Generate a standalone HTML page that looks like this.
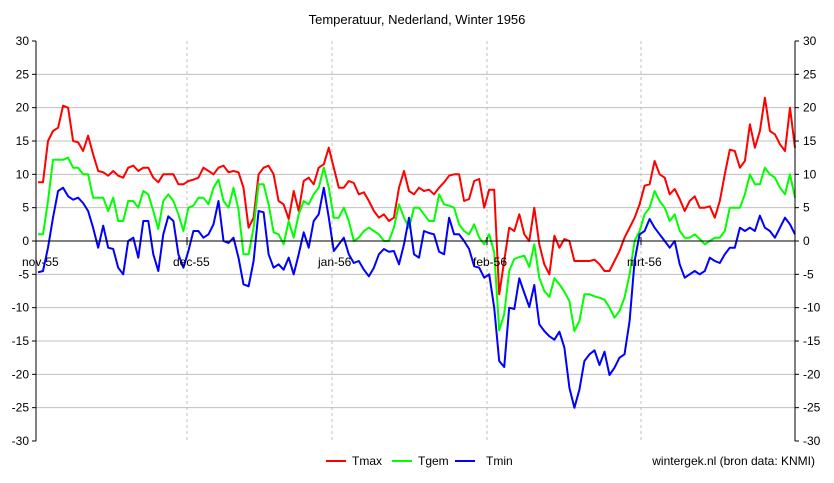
<!DOCTYPE html>
<html><head><meta charset="utf-8"><style>
body{margin:0;background:#fff;}
svg{display:block;font-family:"Liberation Sans",Arial,sans-serif;}
</style></head><body>
<svg id="chart" width="834" height="483">
<text x="417" y="24" text-anchor="middle" font-size="13">Temperatuur, Nederland, Winter 1956</text>
<g id="grid"></g><g id="series"></g><g id="axes"></g>
<g font-size="12">
<line x1="326" y1="461" x2="346" y2="461" stroke="#f00" stroke-width="2"/><text x="352" y="465">Tmax</text>
<line x1="392" y1="461" x2="412" y2="461" stroke="#0f0" stroke-width="2"/><text x="418" y="465">Tgem</text>
<line x1="455" y1="461" x2="475" y2="461" stroke="#00f" stroke-width="2"/><text x="486" y="465">Tmin</text>
</g>
<text x="815" y="465" text-anchor="end" font-size="12">wintergek.nl (bron data: KNMI)</text>
</svg>
<script>
const yTicks=[-30,-25,-20,-15,-10,-5,0,5,10,15,20,25,30];
const months=["nov-55","dec-55","jan-56","feb-56","mrt-56"];
const monthPx=[36,187,332,487,641];
const tmax=[8.8,8.8,15,16.5,17,20.3,20,15,14.8,13.5,15.8,13,10.5,10.3,9.8,10.5,9.8,9.5,11,11.3,10.5,11,11,9.5,8.8,10,10,10,8.5,8.5,9,9.2,9.5,11,10.5,10,11,11.3,10.3,10.5,10.3,8,2,3.5,10,11,11.3,10,6,5.5,3.3,7.5,4.5,9,9.5,8.5,11,11.5,14,11,8,8,9,8.7,7,7.3,6,4.5,3.5,4,3,3.5,8,10.5,7.5,7,8,7.5,7.7,7,8,8.8,9.8,10,10,6,6.3,9,9.3,5,7.7,7.7,-8,-3,2,1.5,4,1,0,5,-0.5,-3.5,-5,0.8,-1,0.3,0,-3,-3,-3,-3,-2.8,-3.5,-4.5,-4.5,-3,-1.5,0.5,2,3.5,5.5,8.3,8.5,12,10,9.5,7,7.8,6.3,4.5,6,6.7,5,5,5.2,3.5,6,10,13.7,13.5,11,12,17.5,14,16.5,21.5,16.5,16,14.5,13.5,20,14];
const tgem=[1,1,6,12.2,12.2,12.2,12.5,11,11,10,10,6.5,6.5,6.5,4.5,6.5,3,3,6,6,5,7.5,7,4.5,1.8,6,7,6,4,1.5,5,5.3,6.5,6.5,5.5,8,9.2,6,5,8,4.7,-2,-2,2,8.5,8.5,5.5,1.3,1,-0.5,3,0.5,4,6,5.5,7,8,11,8,3.5,3.5,5,3,0,0.5,1.5,2,1.5,1,0,0,2,5.5,3.5,2,5,5,4,3,3,7,5.5,5.3,5,2.5,1.5,1,2.5,0.5,-0.5,1,-1.7,-13.4,-11,-4.5,-2.7,-2.4,-2.2,-3.9,-0.5,-5.5,-7.5,-8.4,-5.6,-6.5,-7.6,-9,-13.5,-12,-8,-8,-8.3,-8.5,-8.8,-10,-11.5,-10.5,-8.5,-5,0,1.5,4,5,7.5,6,5,3,4,1.5,0.5,0.5,1,0.3,-0.5,0,0.5,0.5,1.5,5,5,5,7,10,8.5,8.5,11,10,9.5,8,7,10,6.5];
const tmin=[-4.7,-4.5,-1,3.5,7.5,8,6.7,6.2,6.5,5.7,4.5,2,-1,2.3,-1,-1.2,-4,-5,0,0.5,-2.5,3,3,-2,-4.5,1,3.7,3,-2,-4,-1.5,1.5,1.5,0.5,1,2.5,6,0,-0.3,0.5,-2.5,-6.5,-6.8,-3,4.5,4.3,-2,-4,-3.5,-4.3,-2.5,-5,-2,1.3,-1,3,4,8,3.5,-1.5,-0.5,0.5,-2,-3.3,-3,-4.3,-5.3,-4,-2,-1.2,-1.6,-1.5,-3.5,-0.5,3.5,-2,-2.5,1.5,1.2,1,-1.6,-2,3.5,1,1,0,-1.2,-3.8,-4,-5.5,-5,-10,-18,-18.9,-10,-10.2,-5.6,-7.8,-9.9,-6.6,-12.5,-13.5,-14.3,-14.8,-13.6,-16,-22,-25,-22.3,-18,-17,-16.4,-18.6,-16.6,-20.1,-19,-17.5,-17,-12,-3,1,1.5,3.3,2,1,0,-1,0,-3.5,-5.5,-5,-4.5,-5,-4.5,-2.5,-3,-3.3,-2,-1,-1,2,1.5,2,1.5,3.8,2,1.5,0.5,2,3.5,2.5,1];
const L=36,R=795,T=41,B=441;
const ys=v=>T+(30-v)*(B-T)/60;
const xs=(i,n)=>38+i*(R-38)/(n-1);
const NS="http://www.w3.org/2000/svg";
function mk(tag,attrs,parent){const e=document.createElementNS(NS,tag);for(const k in attrs)e.setAttribute(k,attrs[k]);parent.appendChild(e);return e;}
const grid=document.getElementById('grid'),axes=document.getElementById('axes'),ser=document.getElementById('series');
yTicks.forEach(v=>{
  if(v!==0&&v!==30&&v!==-30){const g=mk('line',{x1:L,x2:R,y1:ys(v),y2:ys(v),stroke:'#c0c0c0','stroke-width':1},grid);
  
  }
  const t1=mk('text',{x:L-7,y:ys(v)+4,'text-anchor':'end','font-size':12},axes);t1.textContent=v;
  
  
  const t2=mk('text',{x:R+8,y:ys(v)+4,'font-size':12},axes);t2.textContent=v;
  
  
  mk('line',{x1:L-4,x2:L,y1:ys(v),y2:ys(v),stroke:'#000'},axes);
  mk('line',{x1:R,x2:R+4,y1:ys(v),y2:ys(v),stroke:'#000'},axes);
});
months.forEach((m,i)=>{
  const x=monthPx[i];
  if(i>0){const d=mk('line',{x1:x,x2:x,y1:T,y2:B,stroke:'#c0c0c0','stroke-dasharray':'3,3'},grid);
  
  }
  mk('line',{x1:x,x2:x,y1:ys(0)-4,y2:ys(0)+4,stroke:'#000'},axes);
  const t=mk('text',{x:x-14,y:ys(0)+25,'font-size':12},axes);t.textContent=m;
  
  
});
const z=mk('line',{x1:L,x2:R,y1:ys(0),y2:ys(0),stroke:'#000'},axes);


[[L],[R]].forEach(([x])=>mk('line',{x1:x,x2:x,y1:T,y2:B,stroke:'#000'},axes));
[[tmax,'#f00','tmax-line'],[tgem,'#0f0','tgem-line'],[tmin,'#00f','tmin-line']].forEach(([d,c,n])=>{
  const p=mk('polyline',{points:d.map((v,i)=>xs(i,d.length).toFixed(1)+','+ys(v).toFixed(1)).join(' '),fill:'none',stroke:c,'stroke-width':2,'stroke-linejoin':'round'},ser);
  
  
});
</script>
</body></html>
